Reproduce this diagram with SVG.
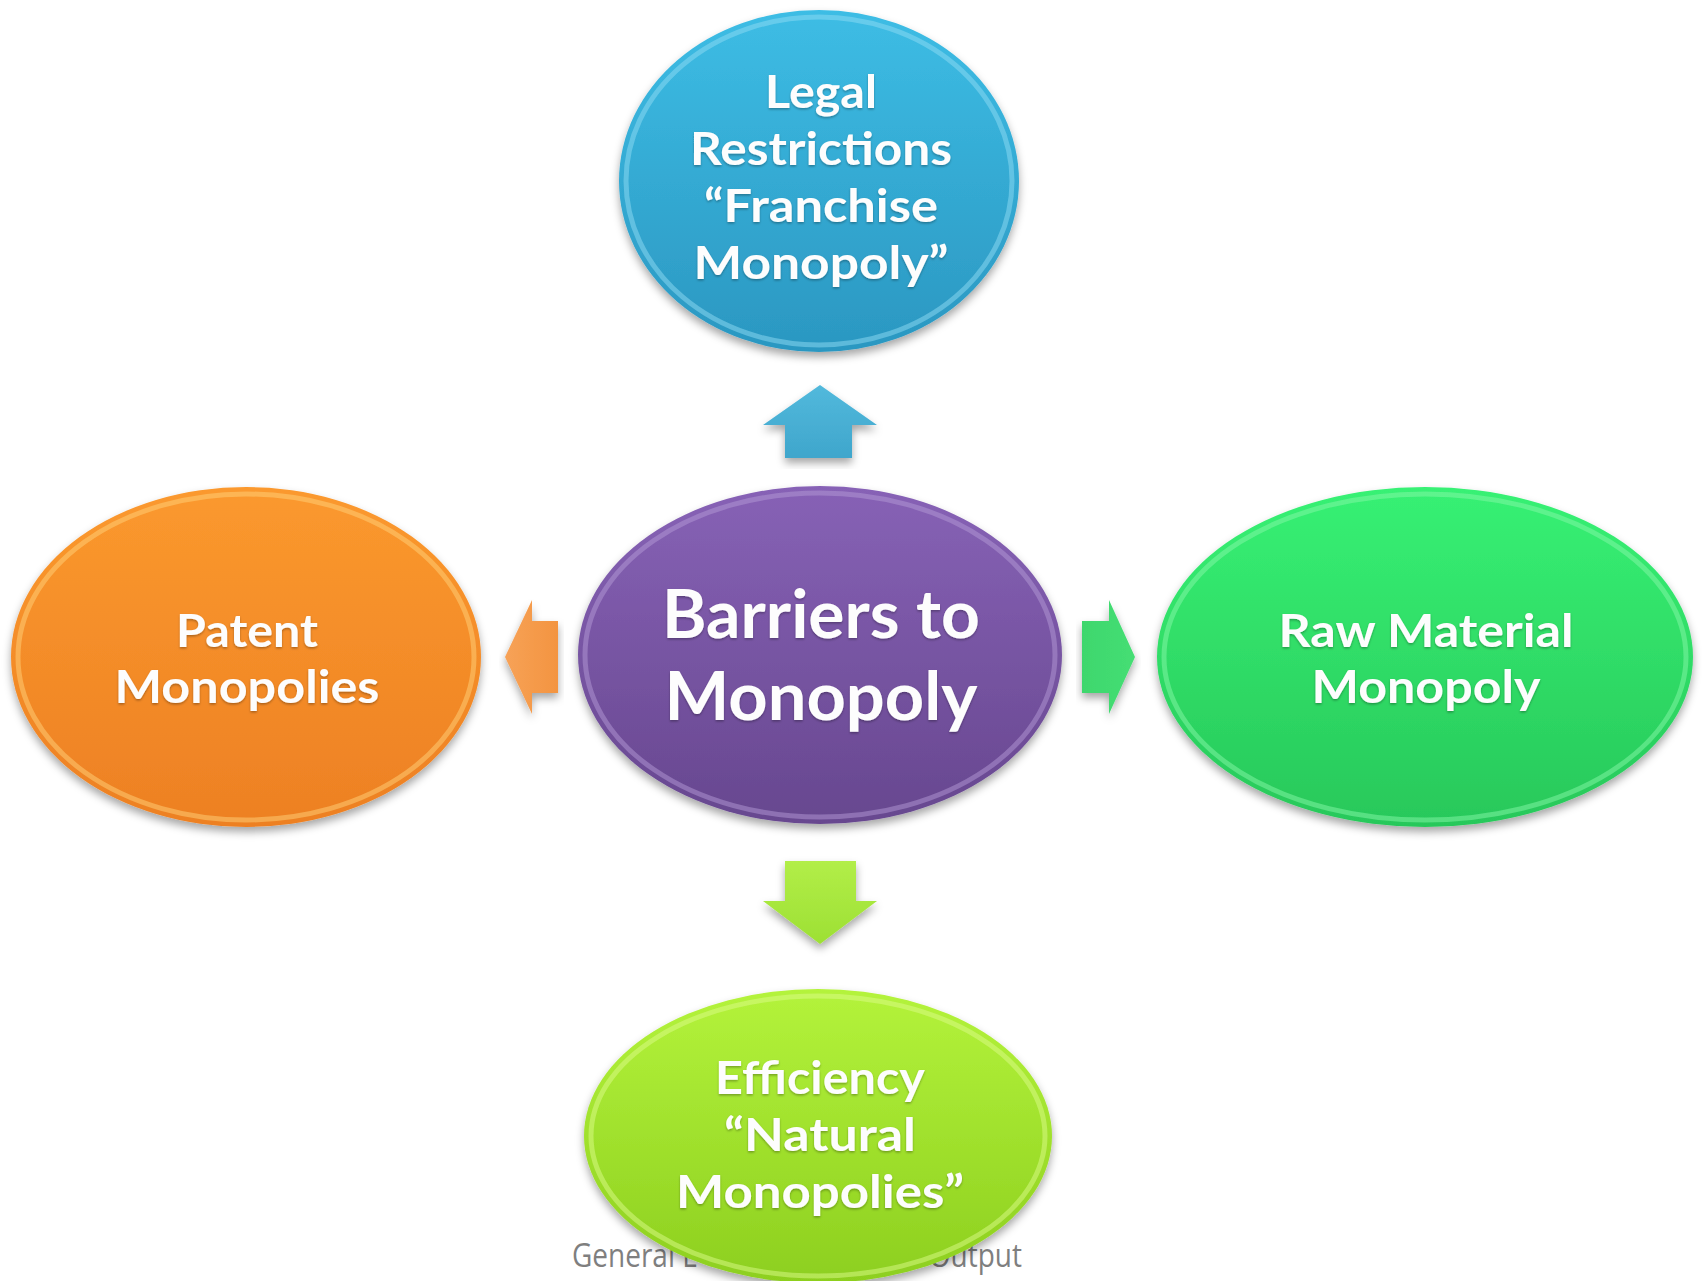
<svg xmlns="http://www.w3.org/2000/svg" width="1702" height="1281" viewBox="0 0 1702 1281">
<defs>
<style>
.lbl{font-family:Lato,"Open Sans","Liberation Sans",sans-serif;font-weight:700;fill:#fdfdfd;text-anchor:middle}
.foot{font-family:"Open Sans","Liberation Sans",sans-serif;font-size:28px;fill:#7f7f7f}
.rim{fill:none;stroke-width:5;opacity:.5}
</style>
<filter id="sh" x="-10%" y="-10%" width="120%" height="125%">
<feDropShadow dx="0" dy="5" stdDeviation="4" flood-color="#000" flood-opacity="0.35"/>
</filter>
<filter id="tsh" x="-10%" y="-20%" width="120%" height="150%">
<feDropShadow dx="0" dy="1.5" stdDeviation="1" flood-color="#000" flood-opacity="0.3"/>
</filter>
<linearGradient id="gBlue" x1="0" y1="0" x2="0" y2="1"><stop offset="0" stop-color="#3dbde5"/><stop offset="1" stop-color="#2b97c1"/></linearGradient>
<linearGradient id="gPurple" x1="0" y1="0" x2="0" y2="1"><stop offset="0" stop-color="#8762b6"/><stop offset="1" stop-color="#67478f"/></linearGradient>
<linearGradient id="gOrange" x1="0" y1="0" x2="0" y2="1"><stop offset="0" stop-color="#fb992e"/><stop offset="1" stop-color="#ed8023"/></linearGradient>
<linearGradient id="gGreen" x1="0" y1="0" x2="0" y2="1"><stop offset="0" stop-color="#37f174"/><stop offset="1" stop-color="#28c85a"/></linearGradient>
<linearGradient id="gLime" x1="0" y1="0" x2="0" y2="1"><stop offset="0" stop-color="#b4f33b"/><stop offset="1" stop-color="#8dcf1f"/></linearGradient>
<linearGradient id="aBlue" x1="0" y1="0" x2="0" y2="1"><stop offset="0" stop-color="#52b9dc"/><stop offset="1" stop-color="#3fa6cc"/></linearGradient>
<linearGradient id="aOrange" x1="0" y1="0" x2="1" y2="0"><stop offset="0" stop-color="#f7a257"/><stop offset="1" stop-color="#f39440"/></linearGradient>
<linearGradient id="aGreen" x1="0" y1="0" x2="1" y2="0"><stop offset="0" stop-color="#3ed76d"/><stop offset="1" stop-color="#45de74"/></linearGradient>
<linearGradient id="aLime" x1="0" y1="0" x2="0" y2="1"><stop offset="0" stop-color="#b2ee48"/><stop offset="1" stop-color="#9de034"/></linearGradient>
</defs>
<rect width="1702" height="1281" fill="#ffffff"/>

<g id="footer">
<text class="foot" transform="translate(572,1267) scale(1,1.2)">General E</text>
<text class="foot" transform="translate(1022,1267) scale(1,1.2)" text-anchor="end">Output</text>
</g>

<g id="connectors">
<path id="arrow-up" d="M820,385 L877,425 L852,425 L852,458 L785,458 L785,425 L763,425 Z" fill="url(#aBlue)" filter="url(#sh)"/>
<path id="arrow-left" d="M505,657 L532,600 L532,621 L558,621 L558,693 L532,693 L532,714 Z" fill="url(#aOrange)" filter="url(#sh)"/>
<path id="arrow-right" d="M1135,657 L1109,600 L1109,621 L1082,621 L1082,693 L1109,693 L1109,714 Z" fill="url(#aGreen)" filter="url(#sh)"/>
<path id="arrow-down" d="M820,944 L877,901 L856,901 L856,861 L785,861 L785,901 L763,901 Z" fill="url(#aLime)" filter="url(#sh)"/>
</g>

<g id="node-legal">
<ellipse cx="819" cy="181" rx="200" ry="171" fill="url(#gBlue)" filter="url(#sh)"/>
<ellipse class="rim" cx="819" cy="181" rx="193" ry="164" stroke="#8fdcf4"/>
<g class="lbl" font-size="46" filter="url(#tsh)">
<text x="821" y="108" textLength="112" lengthAdjust="spacingAndGlyphs">Legal</text>
<text x="821" y="165" textLength="262" lengthAdjust="spacingAndGlyphs">Restrictions</text>
<text x="821" y="222" textLength="234" lengthAdjust="spacingAndGlyphs">“Franchise</text>
<text x="821" y="279" textLength="255" lengthAdjust="spacingAndGlyphs">Monopoly”</text>
</g>
</g>

<g id="node-barriers">
<ellipse cx="820" cy="655" rx="242" ry="169" fill="url(#gPurple)" filter="url(#sh)"/>
<ellipse class="rim" cx="820" cy="655" rx="235" ry="162" stroke="#b39ad6"/>
<g class="lbl" font-size="66" filter="url(#tsh)">
<text x="821" y="638" textLength="318" lengthAdjust="spacingAndGlyphs">Barriers to</text>
<text x="821" y="720" textLength="313" lengthAdjust="spacingAndGlyphs">Monopoly</text>
</g>
</g>

<g id="node-patent">
<ellipse cx="246" cy="657" rx="235" ry="170" fill="url(#gOrange)" filter="url(#sh)"/>
<ellipse class="rim" cx="246" cy="657" rx="228" ry="163" stroke="#ffd27a"/>
<g class="lbl" font-size="46" filter="url(#tsh)">
<text x="247" y="647" textLength="142" lengthAdjust="spacingAndGlyphs">Patent</text>
<text x="247" y="703" textLength="265" lengthAdjust="spacingAndGlyphs">Monopolies</text>
</g>
</g>

<g id="node-raw">
<ellipse cx="1425" cy="657" rx="268" ry="170" fill="url(#gGreen)" filter="url(#sh)"/>
<ellipse class="rim" cx="1425" cy="657" rx="261" ry="163" stroke="#86f7a8"/>
<g class="lbl" font-size="46" filter="url(#tsh)">
<text x="1426" y="647" textLength="295" lengthAdjust="spacingAndGlyphs">Raw Material</text>
<text x="1426" y="703" textLength="229" lengthAdjust="spacingAndGlyphs">Monopoly</text>
</g>
</g>

<g id="node-efficiency">
<ellipse cx="818" cy="1136" rx="234" ry="147" fill="url(#gLime)" filter="url(#sh)"/>
<ellipse class="rim" cx="818" cy="1136" rx="227" ry="140" stroke="#dcfb8a"/>
<g class="lbl" font-size="46" filter="url(#tsh)">
<text x="820" y="1094" textLength="210" lengthAdjust="spacingAndGlyphs">Efficiency</text>
<text x="820" y="1151" textLength="192" lengthAdjust="spacingAndGlyphs">“Natural</text>
<text x="820" y="1208" textLength="288" lengthAdjust="spacingAndGlyphs">Monopolies”</text>
</g>
</g>
</svg>
